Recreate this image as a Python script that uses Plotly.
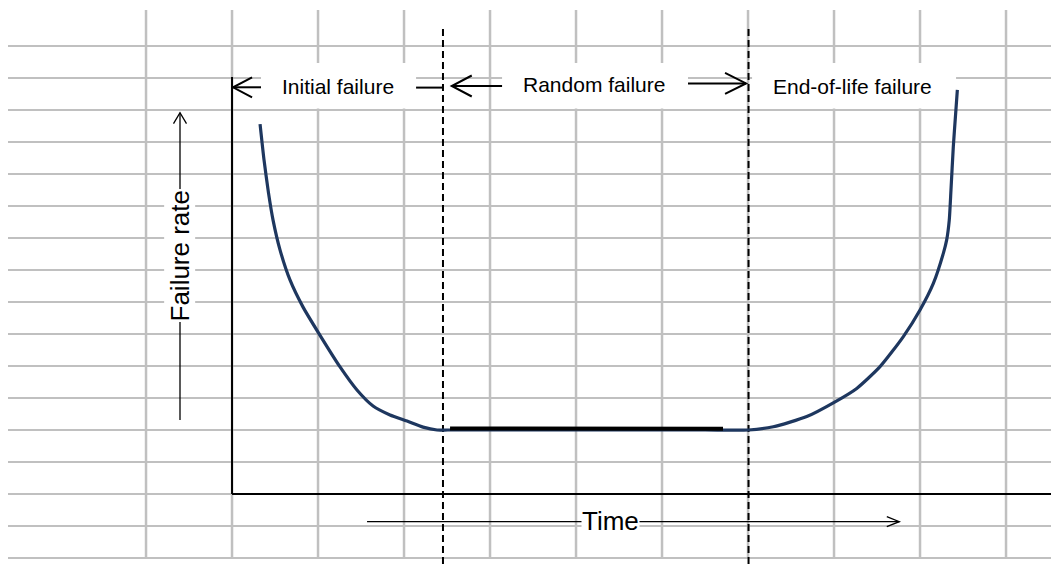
import plotly.graph_objects as go

# ---- data -------------------------------------------------------------
# Bathtub curve read in grid units: x = time (columns), y = failure rate (rows)
time_pts = [1.326, 1.372, 1.424, 1.477, 1.558, 1.674, 1.826, 2.000, 2.256,
            2.453, 2.640, 2.837, 3.035, 3.221, 3.384, 3.510, 4.5, 5.5, 6.5,
            7.006, 7.294, 7.683, 8.012, 8.264, 8.535, 8.806, 9.000, 9.155,
            9.271, 9.310, 9.340, 9.360, 9.387, 9.413, 9.434]
rate_pts = [11.56, 10.44, 9.41, 8.56, 7.63, 6.69, 5.84, 5.06, 3.97,
            3.25, 2.75, 2.47, 2.28, 2.09, 2.00, 2.00, 2.00, 2.00, 2.00,
            2.00, 2.10, 2.42, 2.88, 3.30, 3.98, 4.92, 5.75, 6.58,
            7.52, 7.94, 8.56, 9.50, 10.85, 11.84, 12.63]

# Constant failure rate during the random-failure period
random_time = [3.535, 6.709]
random_rate = [2.05, 2.04]

# Boundaries between the three life phases
phase_bounds = [3.453, 7.006]
phase_labels = ["Initial failure", "Random failure", "End-of-life failure"]

# ---- layout helpers ---------------------------------------------------
W, H = 1051, 564
X_RANGE = [-1.698, 10.523]
Y_RANGE = [-2.1875, 15.4375]
PX_X = W / (X_RANGE[1] - X_RANGE[0])
PX_Y = H / (Y_RANGE[1] - Y_RANGE[0])

FONT = "Liberation Sans, Arial, sans-serif"
GRID = "#c0c0c0"
NAVY = "#1E375F"

shapes = []


def line(x0, y0, x1, y1, color="black", width=2, dash=None):
    ln = dict(color=color, width=width)
    if dash:
        ln["dash"] = dash
    shapes.append(dict(type="line", xref="x", yref="y", x0=x0, y0=y0,
                       x1=x1, y1=y1, line=ln, layer="below"))


def chevron(xt, yt, direction, length, half, width=2):
    """Open arrow head with tip at (xt, yt); length/half in pixels."""
    if direction == "left":
        a = (xt + length / PX_X, yt + half / PX_Y)
        b = (xt + length / PX_X, yt - half / PX_Y)
    elif direction == "right":
        a = (xt - length / PX_X, yt + half / PX_Y)
        b = (xt - length / PX_X, yt - half / PX_Y)
    else:  # up
        a = (xt - half / PX_X, yt - length / PX_Y)
        b = (xt + half / PX_X, yt - length / PX_Y)
    path = f"M {a[0]},{a[1]} L {xt},{yt} L {b[0]},{b[1]}"
    shapes.append(dict(type="path", xref="x", yref="y", path=path,
                       line=dict(color="black", width=width), layer="below"))


# worksheet-style grid
for r in range(-2, 15):
    line(-1.605, r, X_RANGE[1], r, color=GRID, width=2)
for c in range(0, 11):
    line(c, -2, c, 15.125, color=GRID, width=2.5)

# white label boxes for the phase names
label_boxes = [(1.337, 3.140), (4.140, 6.302), (7.047, 9.419)]
for bx0, bx1 in label_boxes:
    shapes.append(dict(type="rect", xref="x", yref="y", x0=bx0, x1=bx1,
                       y0=12.05, y1=13.47, fillcolor="white",
                       line=dict(width=0), layer="below"))

# axes
line(1.0, 0, 1.0, 13.03)
line(1.0, 0, X_RANGE[1], 0)

# phase boundaries
for xb, ytop in zip(phase_bounds, [14.59, 14.66]):
    line(xb, Y_RANGE[0], xb, ytop, dash="7px,4px", width=2)

# phase arrows along the top
line(1.012, 12.71, 1.337, 12.71)
chevron(1.012, 12.71, "left", 19, 10)
line(3.140, 12.70, 3.453, 12.70)
line(3.555, 12.75, 4.140, 12.75)
chevron(3.555, 12.75, "left", 20, 10.5)
line(6.302, 12.83, 6.977, 12.83)
chevron(6.977, 12.83, "right", 21, 10.5)

# failure-rate arrow (vertical) and time arrow (horizontal)
line(0.395, 2.3125, 0.395, 11.916, width=1.3)
chevron(0.395, 11.916, "up", 11, 6.5, width=1.3)
line(2.570, -0.866, 8.759, -0.866, width=1.3)
chevron(8.759, -0.866, "right", 12.5, 5, width=1.3)

# ---- figure -----------------------------------------------------------
fig = go.Figure()
fig.add_trace(go.Scatter(x=time_pts, y=rate_pts, mode="lines",
                         line=dict(color=NAVY, width=3.2, shape="spline",
                                   smoothing=0.6),
                         hoverinfo="skip", showlegend=False))
fig.add_trace(go.Scatter(x=random_time, y=random_rate, mode="lines",
                         line=dict(color="black", width=4),
                         hoverinfo="skip", showlegend=False))

annotations = []
label_pos = [(2.238, 12.72), (5.214, 12.81), (8.219, 12.73)]
for text, (lx, ly) in zip(phase_labels, label_pos):
    annotations.append(dict(x=lx, y=ly, xref="x", yref="y", text=text,
                            showarrow=False,
                            font=dict(family=FONT, size=21, color="black")))
annotations.append(dict(x=0.39, y=7.44, xref="x", yref="y",
                        text="Failure rate", textangle=-90, showarrow=False,
                        bgcolor="white", borderpad=0,
                        font=dict(family=FONT, size=26, color="black")))
annotations.append(dict(x=5.401, y=-0.84, xref="x", yref="y", text="Time",
                        showarrow=False, bgcolor="white", borderpad=0,
                        font=dict(family=FONT, size=26, color="black")))

fig.update_layout(
    width=W, height=H,
    margin=dict(l=0, r=0, t=0, b=0),
    paper_bgcolor="white", plot_bgcolor="white",
    xaxis=dict(range=X_RANGE, visible=False, fixedrange=True),
    yaxis=dict(range=Y_RANGE, visible=False, fixedrange=True),
    shapes=shapes, annotations=annotations,
    showlegend=False,
)

fig.write_html("out.html")
